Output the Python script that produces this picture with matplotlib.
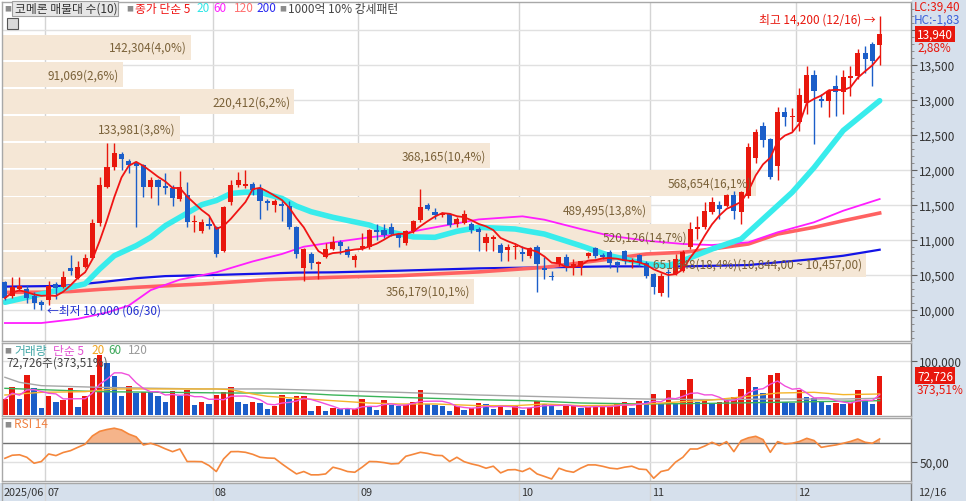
import numpy as np
import pandas as pd
import matplotlib
matplotlib.use("Agg")
import matplotlib.pyplot as plt
from matplotlib.patches import Rectangle
from matplotlib.ticker import FuncFormatter, MultipleLocator

plt.rcParams['font.family'] = ['Noto Sans CJK KR', 'DejaVu Sans']
plt.rcParams['axes.unicode_minus'] = False

# ---------------- data ----------------
months = ['2025/06', '07', '08', '09', '10', '11', '12']
month_start = [0, 6, 29, 49, 71, 89, 109]
last_date = '12/16'
hi_date = '12/16'
lo_date = '06/30'

opens = [10391, 10200, 10296, 10290, 10200, 10110, 10143, 10367, 10329, 10591,
         10453, 10605, 10738, 11234, 11757, 12034, 12224, 12120, 12091, 12071,
         11757, 11853, 11771, 11734, 11581, 11639, 11249, 11129, 11224, 11177,
         10843, 11543, 11781, 11771, 11791, 11734, 11557, 11496, 11510, 11486,
         11177, 10591, 10796, 10653, 10748, 10867, 10963, 10867, 10710, 10881,
         10891, 11138, 11138, 11186, 11081, 10949, 11129, 11281, 11496, 11391,
         11357, 11367, 11224, 11240, 11224, 11153, 10949, 11010, 10929, 10853,
         10900, 10820, 10771, 10891, 10596, 10486, 10653, 10757, 10605, 10605,
         10771, 10881, 10786, 10829, 10686, 10843, 10677, 10781, 10667, 10510,
         10239, 10540, 10510, 10557, 10891, 11153, 11177, 11391, 11500, 11486,
         11639, 11400, 11629, 12163, 12620, 12439, 12049, 12829, 12749, 12677,
         12953, 13353, 13010, 12986, 13200, 13114, 13310, 13343, 13667, 13796,
         13780]
highs = [10414, 10471, 10471, 10360, 10250, 10140, 10414, 10400, 10557, 10786,
         10700, 10790, 11296, 11900, 12377, 12380, 12260, 12150, 12120, 12080,
         11900, 11870, 11950, 11780, 11986, 11820, 11360, 11300, 11324, 11200,
         11480, 11860, 11971, 12000, 11830, 11800, 11580, 11580, 11560, 11560,
         11190, 10880, 10820, 10700, 10960, 11057, 11000, 10914, 10800, 11100,
         11150, 11230, 11230, 11240, 11100, 11140, 11280, 11724, 11530, 11450,
         11400, 11380, 11330, 11424, 11260, 11180, 11100, 11070, 10960, 10940,
         10960, 10910, 10900, 10920, 10760, 10560, 10760, 10790, 10720, 10700,
         10820, 10900, 10810, 10850, 10700, 10860, 10740, 10800, 10690, 10530,
         10520, 10580, 10800, 10850, 11250, 11343, 11539, 11610, 11560, 11660,
         11700, 11700, 12380, 12580, 12677, 12460, 12900, 12900, 12880, 13163,
         13477, 13420, 13080, 13160, 13353, 13420, 13477, 13724, 13771, 13820,
         14200]
lows = [10140, 10170, 10270, 10100, 10010, 10000, 10071, 10150, 10310, 10500,
        10440, 10590, 10720, 11200, 11740, 12000, 12000, 11960, 11186, 11606,
        11600, 11496, 11650, 11486, 11560, 11181, 11117, 11100, 11150, 10750,
        10820, 11500, 11760, 11740, 11640, 11296, 11430, 11400, 11270, 11150,
        10743, 10414, 10580, 10439, 10740, 10850, 10800, 10760, 10610, 10850,
        10870, 10990, 11030, 11060, 10891, 10930, 11100, 11260, 11420, 11300,
        11320, 11180, 11180, 11220, 11100, 10843, 10843, 10843, 10700, 10700,
        10720, 10700, 10740, 10248, 10440, 10420, 10620, 10560, 10500, 10500,
        10740, 10740, 10720, 10600, 10534, 10650, 10600, 10620, 10460, 10224,
        10200, 10177, 10490, 10540, 10870, 11010, 11160, 11370, 11290, 11470,
        11296, 11224, 11600, 12100, 12330, 11870, 11860, 12620, 12560, 12550,
        12800, 12367, 12900, 12749, 12771, 12796, 13057, 13300, 13380, 13191,
        13490]
closes = [10167, 10320, 10343, 10171, 10090, 10070, 10343, 10310, 10471, 10548,
          10605, 10738, 11234, 11786, 12043, 12234, 12153, 12071, 12057, 11757,
          11853, 11757, 11739, 11591, 11749, 11249, 11271, 11257, 11200, 10796,
          11463, 11781, 11857, 11796, 11714, 11557, 11520, 11557, 11486, 11177,
          10796, 10867, 10663, 10686, 10867, 10963, 10914, 10786, 10771, 10914,
          11138, 11106, 11071, 11081, 11024, 11129, 11263, 11471, 11439, 11357,
          11371, 11214, 11300, 11367, 11138, 11106, 11043, 11034, 10806, 10900,
          10910, 10796, 10881, 10653, 10567, 10463, 10748, 10614, 10653, 10691,
          10806, 10771, 10757, 10667, 10638, 10700, 10714, 10667, 10486, 10320,
          10486, 10520, 10724, 10820, 11153, 11177, 11414, 11534, 11439, 11639,
          11414, 11677, 12320, 12543, 12429, 11891, 12829, 12749, 12763, 13067,
          13353, 13129, 12986, 13129, 13114, 13320, 13343, 13667, 13581, 13550,
          13940]
volumes = [29600, 51300, 29600, 74700, 49400, 13000, 34600, 23500, 28400, 50000,
           14200, 34600, 74700, 111700, 96300, 72800, 34600, 54300, 40700, 43200,
           42000, 36000, 23500, 45000, 35800, 46900, 18500, 23500, 20400, 37000,
           42000, 51300, 24700, 20400, 23500, 21600, 11100, 17300, 37000, 29600,
           34600, 35800, 6800, 17300, 8000, 13000, 11100, 10500, 11700, 29600,
           17300, 9900, 27800, 18500, 17300, 18500, 24700, 46300, 20400, 18500,
           17300, 8000, 16000, 9900, 12300, 21600, 20400, 11100, 16000, 9900,
           17300, 9900, 13000, 25900, 20400, 19100, 9900, 17300, 18500, 13000,
           14200, 15400, 16600, 18500, 20400, 23500, 12300, 26000, 25000, 38900,
           20400, 46300, 20400, 46300, 66700, 24700, 27800, 21600, 23500, 30900,
           32700, 48100, 71000, 51300, 40100, 74700, 77800, 24700, 21600, 46900,
           32700, 32000, 26500, 19100, 21600, 20400, 22200, 46300, 26500, 19471,
           72726]

# price moving averages (sampled from the chart: candle index, value)
ma20_i = [0, 5, 8, 11, 13, 15, 18, 20, 22, 25, 27, 29, 31, 33, 35, 38, 40, 42, 45, 50,
          52, 56, 59, 62, 65, 70, 74, 79, 83, 88, 91, 93, 97, 101, 104, 108, 111, 115, 120]
ma20_v = [10106, 10224, 10296, 10370, 10581, 10771, 10914, 11034, 11200, 11380, 11500,
          11560, 11660, 11680, 11677, 11590, 11480, 11400, 11320, 11210, 11130, 11040,
          11034, 11120, 11177, 11153, 11081, 10914, 10771, 10653, 10629, 10700, 10867,
          11010, 11296, 11677, 12030, 12560, 12986]
ma60_i = [0, 5, 10, 14, 17, 20, 24, 29, 34, 38, 41, 45, 50, 54, 59, 65, 71, 74, 79, 83,
          88, 93, 97, 102, 106, 111, 115, 120]
ma60_v = [9810, 9810, 9870, 9960, 10060, 10280, 10430, 10534, 10690, 10796, 10900,
          10963, 11034, 11081, 11177, 11290, 11334, 11286, 11153, 11057, 10986, 10939,
          10924, 10963, 11106, 11249, 11414, 11581]
ma120_i = [0, 5, 9, 13, 18, 27, 36, 45, 54, 65, 74, 83, 88, 93, 97, 102, 106, 111, 115, 120]
ma120_v = [10248, 10250, 10260, 10290, 10320, 10367, 10429, 10463, 10486, 10540, 10605,
           10724, 10796, 10820, 10867, 10939, 11081, 11177, 11271, 11381]
ma200_i = [0, 8, 13, 18, 22, 30, 40, 45, 54, 65, 74, 83, 93, 102, 111, 115, 120]
ma200_v = [10330, 10340, 10391, 10450, 10480, 10500, 10530, 10534, 10557, 10591, 10605,
           10619, 10619, 10638, 10724, 10771, 10857]

# volume moving averages (sampled)
vma20_i = [0, 5, 11, 15, 20, 25, 29, 31, 34, 36, 40, 45, 50, 54, 59, 65, 70, 74, 79, 83,
           88, 93, 97, 102, 106, 111, 115, 120]
vma20_v = [37000, 42000, 43200, 48200, 48200, 48200, 48200, 46900, 38900, 34600, 30900,
           26500, 22200, 20400, 20400, 17300, 17300, 20400, 17300, 18000, 20400, 24700,
           27800, 34600, 40700, 42000, 37700, 38900]
vma60_i = [0, 5, 13, 22, 31, 40, 45, 54, 65, 72, 79, 88, 97, 106, 111, 120]
vma60_v = [49400, 46900, 43200, 42000, 40700, 40700, 37000, 32700, 28400, 26500, 22200,
           20400, 21600, 23500, 24700, 26500]
vma120_i = [0, 2, 5, 13, 27, 36, 45, 54, 65, 72, 83, 88, 97, 106, 115, 120]
vma120_v = [69800, 60500, 54300, 51200, 48200, 48200, 45100, 42000, 37000, 34600, 30900,
            29600, 28400, 29600, 29600, 30900]

rsi14 = [53.7, 57.0, 57.5, 54.8, 48.3, 50.2, 58.4, 56.6, 60.0, 62.0,
         65.6, 69.0, 78.0, 83.0, 85.0, 86.4, 84.5, 80.0, 77.0, 68.2,
         70.0, 67.5, 64.0, 60.9, 63.8, 50.2, 50.2, 50.0, 45.8, 39.3,
         53.0, 60.9, 61.0, 60.2, 58.0, 54.8, 54.0, 53.7, 47.6, 42.0,
         36.7, 39.3, 35.7, 35.7, 36.7, 44.0, 42.0, 39.3, 38.5, 44.0,
         50.2, 50.0, 49.0, 47.6, 48.0, 55.9, 58.0, 60.2, 59.0, 57.0,
         56.6, 50.2, 54.8, 50.0, 47.6, 45.8, 42.9, 45.1, 37.8, 41.1,
         41.4, 39.3, 42.9, 36.7, 34.0, 31.2, 42.9, 40.0, 38.5, 43.0,
         46.5, 46.5, 45.0, 43.0, 42.2, 44.0, 45.1, 42.0, 41.4, 32.0,
         39.3, 41.1, 49.5, 54.8, 63.8, 63.8, 67.0, 71.1, 67.5, 71.8,
         60.9, 72.9, 76.0, 77.6, 74.0, 60.2, 71.8, 69.2, 70.0, 72.0,
         75.4, 73.0, 65.6, 67.0, 68.2, 70.0, 72.0, 74.7, 71.1, 70.0,
         74.7]

# volume profile (매물대), bottom band first
band_vol = [356179, 651648, 520126, 489495, 568654, 368165, 133981, 220412, 91069, 142304]

# ---------------- styling ----------------
W, H = 966, 502
RED = '#E8170D'
BLUE = '#1B5EC9'
PANEL = '#D6E0EC'
BAND = '#F5E7D6'
BAND_TXT = '#7A6138'
GRID = '#E0E0E0'
VGRID = '#D4D4D4'
TXT = '#333333'

n = len(closes)
idx = np.arange(n)
o = np.array(opens, float)
h = np.array(highs, float)
l = np.array(lows, float)
c = np.array(closes, float)
v = np.array(volumes, float)

fig = plt.figure(figsize=(W / 100, H / 100), dpi=100)
fig.patch.set_facecolor('white')


def rect(x0, y0, x1, y1):
    return [x0 / W, 1 - y1 / H, (x1 - x0) / W, (y1 - y0) / H]


def ftext(x, y, s, **kw):
    kw.setdefault('va', 'center')
    kw.setdefault('ha', 'left')
    kw.setdefault('fontsize', 8.5)
    kw.setdefault('color', TXT)
    return fig.text(x / W, 1 - y / H, s, **kw)


# right-hand scale panel and date row background (behind the axes)
fig.patches.append(Rectangle((912 / W, 0), 54 / W, 1, transform=fig.transFigure,
                             fc=PANEL, ec='none', zorder=-5))
fig.patches.append(Rectangle((0, 0), 1, 18 / H, transform=fig.transFigure,
                             fc=PANEL, ec='none', zorder=-5))

ax_p = fig.add_axes(rect(2, 3, 911, 342))
ax_v = fig.add_axes(rect(2, 344, 911, 417))
ax_r = fig.add_axes(rect(2, 419, 911, 482))
ax_d = fig.add_axes(rect(2, 484, 911, 502))

x_lo, x_hi = -0.4, 124.3
bounds = np.array(month_start[1:]) - 0.5

for ax in (ax_p, ax_v, ax_r, ax_d):
    ax.set_xlim(x_lo, x_hi)
    ax.set_xticks([])
    for sp in ax.spines.values():
        sp.set_color('#A8A8A8')
        sp.set_linewidth(1)
    ax.spines['right'].set_color('#7F7F7F')
    for b in bounds:
        ax.axvline(b, color=VGRID, lw=1, zorder=0.5)
    ax.yaxis.tick_right()
    ax.tick_params(axis='y', which='major', direction='out', length=4, width=0.8,
                   color='#606060', pad=2, labelsize=8.5, labelcolor=TXT)
    ax.tick_params(axis='y', which='minor', direction='out', length=2, width=0.6,
                   color='#808080')

ax_d.set_facecolor(PANEL)
ax_d.set_yticks([])
ax_d.spines['bottom'].set_visible(False)

# ---------------- price panel ----------------
ax_p.set_ylim(9553, 14396)
ax_p.yaxis.set_major_locator(MultipleLocator(500))
ax_p.yaxis.set_minor_locator(MultipleLocator(100))
ax_p.yaxis.set_major_formatter(FuncFormatter(lambda val, pos: f"{val:,.0f}"))
ax_p.yaxis.grid(True, color=GRID, lw=1)
ax_p.set_axisbelow(True)

# volume profile bands
edges = np.linspace(min(closes), max(closes), len(band_vol) + 1)
step = edges[1] - edges[0]
total = sum(band_vol)
widths = np.array(band_vol) / max(band_vol) * (x_hi - x_lo) * 0.95
ax_p.barh(edges[:-1] + step / 2, widths, height=step * 0.93, left=x_lo,
          color=BAND, lw=0, zorder=1)
top_band = int(np.argmax(band_vol))
for k, (bv, wd) in enumerate(zip(band_vol, widths)):
    lab = f"{bv:,}({bv / total * 100:.1f}%)"
    if k == top_band:
        lab += f"({edges[k + 1]:,.2f} ~ {edges[k]:,.2f})"
    lab = lab.replace('.', ',')
    ax_p.text(x_lo + wd - 0.5, edges[k] + step / 2, lab, ha='right', va='center',
              fontsize=8.5, color=BAND_TXT, zorder=8)

# moving averages (below candles)
ax_p.plot(ma200_i, ma200_v, color='#1414E6', lw=1.6, zorder=2)
ax_p.plot(ma120_i, ma120_v, color='#FF6262', lw=2.6, zorder=2)
ax_p.plot(ma60_i, ma60_v, color='#FF1EFF', lw=1.3, zorder=2)
ax_p.plot(ma20_i, ma20_v, color='#38ECEC', lw=4.0, zorder=2, solid_capstyle='round')

# candles
up = c >= o
ccol = np.where(up, RED, BLUE)
ax_p.vlines(idx, l, h, colors=ccol, lw=1, zorder=3)
body_lo = np.minimum(o, c)
body_h = np.maximum(np.abs(c - o), 14)
ax_p.bar(idx, body_h, bottom=body_lo, width=0.7, color=ccol, lw=0, zorder=3)

ma5 = pd.Series(c).rolling(5, min_periods=1).mean()
ax_p.plot(idx, ma5, color='#F01414', lw=1.3, zorder=4)

# high / low markers
i_hi = int(np.argmax(h))
i_lo = int(np.argmin(l))
ax_p.annotate(f"최고 {h[i_hi]:,.0f} ({hi_date}) →", xy=(i_hi, h[i_hi]),
              xytext=(-4, -3), textcoords='offset pixels', ha='right', va='center',
              fontsize=8.5, color=RED, zorder=9)
ax_p.annotate(f"←최저 {l[i_lo]:,.0f} ({lo_date})", xy=(i_lo, l[i_lo]),
              xytext=(6, 0), textcoords='offset pixels', ha='left', va='center',
              fontsize=8.5, color='#2230D0', zorder=9)

# last price box on the scale (it covers the 14,000 label as in the source)
chg = (c[-1] - c[-2]) / c[-2] * 100
ax_p.annotate(f"{c[-1]:,.0f}", xy=(1, c[-1]), xycoords=('axes fraction', 'data'),
              xytext=(6, 0), textcoords='offset pixels', ha='left', va='center',
              fontsize=8.5, color='white', annotation_clip=False, zorder=10,
              bbox=dict(boxstyle='square,pad=0.15', fc=RED, ec='none'))
ax_p.annotate(f"{chg:.2f}%".replace('.', ','), xy=(1, c[-1]), xycoords=('axes fraction', 'data'),
              xytext=(6, -13), textcoords='offset pixels', ha='left', va='center',
              fontsize=8.5, color=RED, annotation_clip=False, zorder=10)

lc = (c[-1] - l[i_lo]) / l[i_lo] * 100
hc = (c[-1] - h[i_hi]) / h[i_hi] * 100
ftext(914, 7, f"LC:{lc:.2f}".replace('.', ','), color=RED)
ftext(914, 20, f"HC:{hc:.2f}".replace('.', ','), color='#3A60D8')

# ---------------- volume panel ----------------
vcol = [RED] + [RED if v[i] >= v[i - 1] else BLUE for i in range(1, n)]
ax_v.bar(idx, v, width=0.75, color=vcol, lw=0, zorder=2)
ax_v.plot(vma120_i, vma120_v, color='#A6A6A6', lw=1, zorder=3)
ax_v.plot(vma60_i, vma60_v, color='#3CB45A', lw=1, zorder=3)
ax_v.plot(vma20_i, vma20_v, color='#F5B52A', lw=1, zorder=3)
ax_v.plot(idx, pd.Series(v).rolling(5, min_periods=1).mean(), color='#F050DC', lw=1, zorder=3)
ax_v.set_ylim(-1850, 133300)
ax_v.set_yticks([100000])
ax_v.yaxis.set_major_formatter(FuncFormatter(lambda val, pos: f"{val:,.0f}"))
ax_v.yaxis.grid(True, color=GRID, lw=1)
ax_v.set_axisbelow(True)

vr = v[-1] / v[-2] * 100
ax_v.annotate(f"{v[-1]:,.0f}", xy=(1, v[-1]), xycoords=('axes fraction', 'data'),
              xytext=(6, 0), textcoords='offset pixels', ha='left', va='center',
              fontsize=8.5, color='white', annotation_clip=False, zorder=10,
              bbox=dict(boxstyle='square,pad=0.15', fc=RED, ec='none'))
ax_v.annotate(f"{vr:.2f}%".replace('.', ','), xy=(1, v[-1]), xycoords=('axes fraction', 'data'),
              xytext=(6, -13), textcoords='offset pixels', ha='left', va='center',
              fontsize=8.5, color=RED, annotation_clip=False, zorder=10)

# ---------------- RSI panel ----------------
rsi = np.array(rsi14)
ax_r.plot(idx, rsi, color='#F5873C', lw=1.2, zorder=3)
ax_r.fill_between(idx, 70, rsi, where=rsi > 70, interpolate=True,
                  color='#F5B48A', lw=0, zorder=2)
ax_r.axhline(70, color='#707070', lw=1, zorder=2.5)
ax_r.axhline(50, color=GRID, lw=1, zorder=1)
ax_r.set_ylim(29, 97.5)
ax_r.set_yticks([50])
ax_r.yaxis.set_major_formatter(FuncFormatter(lambda val, pos: f"{val:.2f}".replace('.', ',')))

# ---------------- dates ----------------
for lab, m in zip(months, month_start):
    ax_d.annotate(lab, xy=(m - 0.5, 0.5), xycoords=('data', 'axes fraction'),
                  xytext=(2, 0), textcoords='offset pixels', ha='left', va='center',
                  fontsize=7.8, color=TXT)
ftext(918, 493, last_date, fontsize=7.8)

# ---------------- legends ----------------
fig.patches.append(Rectangle((12 / W, 1 - 17 / H), 106 / W, 15 / H, transform=fig.transFigure,
                             fc='#E6E6E6', ec='#A0A0A0', lw=0.8, zorder=5))
ftext(4, 9, '■', fontsize=5, color='#8C8C8C')
ftext(15, 9, '코메론 매물대 수(10)', zorder=6)
ftext(126, 9, '■', fontsize=5, color='#8C8C8C')
ftext(135, 9, '종가 단순 5', color='#F01414')
ftext(196, 9, '20', color='#2EE6E6')
ftext(213, 9, '60', color='#FF1EFF')
ftext(234, 9, '120', color='#FF7070')
ftext(256, 9, '200', color='#2A2AF0')
ftext(279, 9, '■', fontsize=5, color='#8C8C8C')
ftext(288, 9, '1000억 10% 강세패턴', color='#444444')
fig.patches.append(Rectangle((7 / W, 1 - 30 / H), 11 / W, 11 / H, transform=fig.transFigure,
                             fc='#DADADA', ec='#555555', lw=0.8, zorder=5))

ftext(4, 351, '■', fontsize=5, color='#8C8C8C')
ftext(14, 351, '거래량', color='#3FA5A5')
ftext(53, 351, '단순 5', color='#E250D2')
ftext(91, 351, '20', color='#F0A520')
ftext(108, 351, '60', color='#3CA85A')
ftext(128, 351, '120', color='#9A9A9A')
ftext(6, 363, f"{v[-1]:,.0f}주({vr:.2f}%)".replace('.', ','), color='#444444')

ftext(4, 425, '■', fontsize=5, color='#8C8C8C')
ftext(14, 425, 'RSI 14', color='#F08040')

fig.savefig('out.png', dpi=100)
